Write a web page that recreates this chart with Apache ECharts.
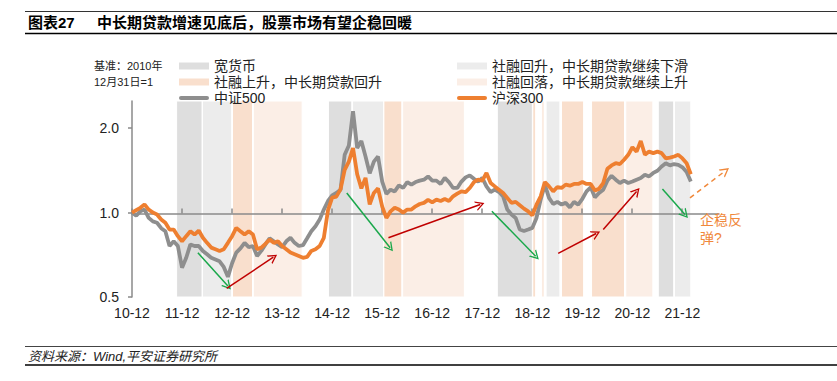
<!DOCTYPE html>
<html><head><meta charset="utf-8">
<script src="https://cdn.jsdelivr.net/npm/echarts@6/dist/echarts.min.js"></script>
<style>html,body{margin:0;padding:0;background:#fff}#c{width:837px;height:381px}</style>
</head><body><div id="c"></div>
<script>
// x = months since 2010-12-31 ; values normalised to 2010-12-31 = 1
const hs300 = [
 1.00, 1.02, 1.04, 1.07, 1.025, 1.00, 0.985, 0.945, 0.92, 0.87, 0.87, 0.824,
 0.79, 0.824, 0.858, 0.835, 0.863, 0.813, 0.78, 0.75, 0.74, 0.73, 0.74, 0.78,
 0.824, 0.882, 0.858, 0.835, 0.858, 0.835, 0.74, 0.75, 0.774, 0.802, 0.78, 0.79,
 0.76, 0.74, 0.72, 0.71, 0.70, 0.69, 0.695, 0.73, 0.74, 0.76, 0.813, 1.02,
 1.13, 1.14, 1.21, 1.42, 1.52, 1.70, 1.37, 1.22, 1.33, 1.07, 1.175, 1.22,
 1.05, 0.957, 1.01, 1.04, 1.025, 1.00, 1.025, 1.025, 1.053, 1.073, 1.083, 1.11,
 1.088, 1.112, 1.10, 1.118, 1.10, 1.143, 1.168, 1.19, 1.184, 1.224, 1.285, 1.31,
 1.30, 1.385, 1.275, 1.24, 1.207, 1.175, 1.128, 1.083, 1.092, 1.062, 1.033, 1.01,
 0.978, 1.068, 1.143, 1.285, 1.24, 1.19, 1.234, 1.224, 1.258, 1.247, 1.265, 1.265,
 1.285, 1.265, 1.265, 1.198, 1.217, 1.275, 1.433, 1.473, 1.50, 1.49, 1.543, 1.607,
 1.71, 1.65, 1.80, 1.607, 1.65, 1.63, 1.65, 1.63, 1.56, 1.57, 1.585, 1.607, 1.56, 1.50, 1.37
];
const csi500 = [
 1.00, 0.975, 1.01, 1.025, 0.958, 0.93, 0.92, 0.88, 0.858, 0.76, 0.79, 0.76,
 0.636, 0.69, 0.77, 0.76, 0.76, 0.73, 0.71, 0.69, 0.68, 0.67, 0.64, 0.59,
 0.66, 0.72, 0.745, 0.78, 0.753, 0.76, 0.70, 0.73, 0.77, 0.81, 0.79, 0.77,
 0.753, 0.79, 0.813, 0.78, 0.76, 0.765, 0.81, 0.858, 0.894, 0.944, 1.025, 1.10,
 1.152, 1.175, 1.207, 1.607, 1.734, 2.30, 1.70, 1.80, 1.585, 1.38, 1.52, 1.585,
 1.29, 1.165, 1.207, 1.19, 1.25, 1.224, 1.285, 1.258, 1.285, 1.30, 1.31, 1.346,
 1.30, 1.30, 1.265, 1.33, 1.285, 1.224, 1.224, 1.29, 1.335, 1.357, 1.32, 1.29,
 1.33, 1.24, 1.184, 1.207, 1.184, 1.143, 1.025, 0.984, 0.957, 0.87, 0.86, 0.87,
 0.882, 0.957, 1.112, 1.258, 1.128, 1.073, 1.092, 1.068, 1.083, 1.044, 1.092, 1.068,
 1.12, 1.19, 1.23, 1.133, 1.175, 1.207, 1.30, 1.353, 1.31, 1.275, 1.30, 1.275,
 1.29, 1.31, 1.328, 1.365, 1.346, 1.385, 1.41, 1.46, 1.50, 1.473, 1.49, 1.48, 1.45, 1.395, 1.29
];
const monthIndex = hs300.map((_, i) => i);
const xTickLabels = ['10-12','11-12','12-12','13-12','14-12','15-12','16-12','17-12','18-12','19-12','20-12','21-12'];
const yTickValues = [0.5, 1, 2];

// shaded periods (start month, end month)
const bandLoose        = [[10.7,16.8],[47.1,52.7],[87.6,96.0],[126.2,129.9]];
const bandTsfUpLoanDn  = [[16.9,23.9],[52.9,60.3],[99.3,102.6],[130.1,134.0]];
const bandTsfUpLoanUp  = [[24.1,28.9],[60.4,64.7],[96.1,96.8],[98.3,98.8],[103.0,108.3],[110.2,118.1]];
const bandTsfDnLoanUp  = [[29.1,40.8],[64.9,79.7],[118.4,124.9]];

// annotation arrows [fromMonth, fromValue, toMonth, toValue, kind]
const arrowNotes = [
 [15.8,0.719,23.0,0.547,'down'], [22.7,0.537,33.9,0.693,'up'],
 [51.5,1.175,61.9,0.749,'down'], [61.5,0.813,83.5,1.068,'up'],
 [86.3,1.011,96.8,0.699,'down'], [102.2,0.715,111.3,0.842,'up'],
 [113.0,0.87,121.0,1.19,'up'],   [127.2,1.214,132.6,0.984,'down'],
 [133.8,1.128,142.3,1.41,'guess']
];
const noteText = ['企稳反', '弹?'];
const notePos = [136.2, 0.877];

const FONT = "'Liberation Sans','Noto Sans CJK SC',sans-serif";
const C = {grey:'#8e8e8e', orange:'#ee7f30', loose:'#dedede', b2:'#ececec', b3:'#f9dfcd', b4:'#fbeee6',
  down:'#1aa84b', up:'#c00000', guess:'#f0883a', axis:'#8a8a8a', text:'#222'};
const chevron = 'path://M0,20 L10,0 L20,20 L17,20 L10,6 L3,20 Z';
const lineIcon = 'path://M2,0 L28,0 A2,2 0 0 1 28,4 L2,4 A2,2 0 0 1 2,0 Z';

function bandSeries(name, color, bands) {
  return {name, type:'line', data:[], color, itemStyle:{color}, z:1, silent:true,
    markArea:{silent:true, itemStyle:{color, borderColor:'#fff', borderWidth:1},
      data: bands.map(b => [{xAxis:b[0]}, {xAxis:b[1]}])}};
}

const chart = echarts.init(document.getElementById('c'), null, {renderer:'svg'});
const legendText = {fontSize:14, color:C.text, fontFamily:FONT, lineHeight:14};
chart.setOption({
  animation:false,
  textStyle:{fontFamily:FONT},
  grid:[{left:132, right:104.5, top:101, bottom:84},
        {left:132, right:118, top:212.6, height:1}],
  legend:[
    {left:174, top:54, orient:'vertical', itemWidth:30, itemHeight:7, itemGap:2, selectedMode:false,
     symbolKeepAspect:true, textStyle:legendText,
     data:[{name:'宽货币', icon:'rect'}, {name:'社融上升，中长期贷款回升', icon:'rect'}, {name:'中证500', icon:lineIcon}]},
    {left:452, top:54, orient:'vertical', itemWidth:30, itemHeight:7, itemGap:2, selectedMode:false,
     symbolKeepAspect:true, textStyle:legendText,
     data:[{name:'社融回升，中长期贷款继续下滑', icon:'rect'}, {name:'社融回落，中长期贷款继续上升', icon:'rect'}, {name:'沪深300', icon:lineIcon}]}
  ],
  xAxis:[
    {type:'value', gridIndex:0, min:0, max:144, interval:12,
     axisLine:{show:false}, axisTick:{show:false}, splitLine:{show:false},
     axisLabel:{customValues: xTickLabels.map((_, i) => i*12), formatter: v => xTickLabels[Math.round(v/12)] || '',
       fontSize:14, color:C.text, margin:9}},
    {type:'value', gridIndex:1, position:'top', min:0, max:141, interval:12, z:2,
     axisLine:{show:true, lineStyle:{color:C.axis, width:1.5}},
     axisTick:{show:true, length:5, customValues: xTickLabels.map((_, i) => i*12), lineStyle:{color:C.axis, width:1.5}},
     axisLabel:{show:false}, splitLine:{show:false}}
  ],
  yAxis:[
    {type:'log', logBase:2, gridIndex:0, min:0.5, max:2.5,
     axisLine:{show:true, lineStyle:{color:C.axis, width:1.5}},
     axisTick:{show:true, length:4, customValues:yTickValues, lineStyle:{color:C.axis, width:1.5}},
     axisLabel:{customValues:yTickValues, formatter: v => Number(v).toFixed(1), fontSize:14, color:C.text, margin:13},
     splitLine:{show:false}},
    {type:'value', gridIndex:1, show:false, min:0, max:1}
  ],
  series:[
    bandSeries('宽货币', C.loose, bandLoose),
    bandSeries('社融回升，中长期贷款继续下滑', C.b2, bandTsfUpLoanDn),
    bandSeries('社融上升，中长期贷款回升', C.b3, bandTsfUpLoanUp),
    bandSeries('社融回落，中长期贷款继续上升', C.b4, bandTsfDnLoanUp),
    {name:'中证500', type:'line', z:3, symbol:'none', color:C.grey, itemStyle:{color:C.grey},
     lineStyle:{width:3.8, color:C.grey}, data: monthIndex.map((m, i) => [m, csi500[i]])},
    {name:'沪深300', type:'line', z:3, symbol:'none', color:C.orange, itemStyle:{color:C.orange},
     lineStyle:{width:3.8, color:C.orange}, data: monthIndex.map((m, i) => [m, hs300[i]])},
    {name:'notes', type:'line', data:[], z:4, silent:true,
     markLine:{silent:true, symbol:['none', chevron], symbolSize:[10,9], label:{show:false},
       data: arrowNotes.map(a => [
         {coord:[a[0], a[1]], lineStyle:{color:C[a[4]], width:1.5, type: a[4]==='guess' ? [5,4] : 'solid'}},
         {coord:[a[2], a[3]]}
       ])},
     markPoint:{silent:true, data:[{coord:notePos, symbol:'circle', symbolSize:0,
       label:{show:true, position:'right', distance:0, formatter:noteText.join('\n'),
         color:C.guess, fontSize:14, lineHeight:18, align:'left'}}]}}
  ],
  graphic:[
    {type:'line', shape:{x1:25, y1:11.5, x2:837, y2:11.5}, style:{stroke:'#333', lineWidth:1}},
    {type:'line', shape:{x1:25, y1:33.5, x2:837, y2:33.5}, style:{stroke:'#000', lineWidth:1.5}},
    {type:'text', x:28, y:22, style:{text:'图表27', font:"bold 15px "+FONT, fill:'#000', verticalAlign:'middle'}},
    {type:'text', x:97, y:22, style:{text:'中长期贷款增速见底后，股票市场有望企稳回暖', font:"bold 15px "+FONT, fill:'#000', verticalAlign:'middle'}},
    {type:'text', x:94, y:66, style:{text:'基准：2010年', font:"11px "+FONT, fill:'#222', verticalAlign:'middle'}},
    {type:'text', x:94, y:82, style:{text:'12月31日=1', font:"11px "+FONT, fill:'#222', verticalAlign:'middle'}},
    {type:'line', shape:{x1:25, y1:346.5, x2:837, y2:346.5}, style:{stroke:'#444', lineWidth:1}},
    {type:'text', x:28, y:356, style:{text:'资料来源：Wind,平安证券研究所', font:"italic 13px "+FONT, fill:'#222', verticalAlign:'middle'}},
    {type:'line', shape:{x1:25, y1:365, x2:837, y2:365}, style:{stroke:'#000', lineWidth:1.5}}
  ]
});
</script></body></html>
